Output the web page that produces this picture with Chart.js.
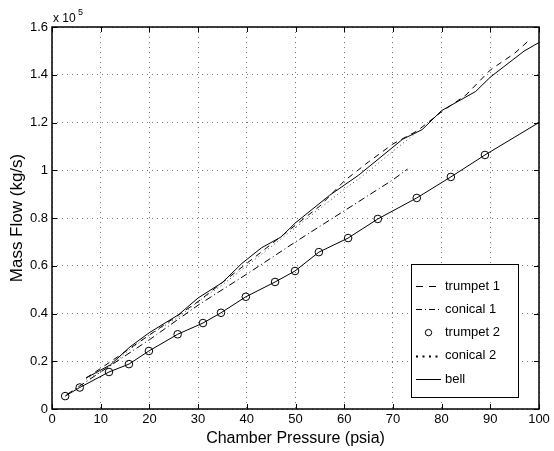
<!DOCTYPE html>
<html>
<head>
<meta charset="utf-8">
<script src="https://cdn.jsdelivr.net/npm/chart.js@4/dist/chart.umd.min.js"></script>
<style>
  html, body { margin: 0; padding: 0; background: #fff; }
  canvas { display: block; }
</style>
</head>
<body>
<canvas id="flow" width="554" height="451"></canvas>
<script>
// values in units of 1e5 kg/s
const trumpet1X = [7, 10, 15, 20, 25, 30, 35, 40, 45, 50, 55, 60, 65, 70, 75, 80, 85, 90, 95, 98];
const trumpet1Y = [0.13, 0.17, 0.24, 0.31, 0.38, 0.45, 0.53, 0.61, 0.69, 0.77, 0.85, 0.955, 1.035, 1.11, 1.165, 1.245, 1.315, 1.42, 1.49, 1.545];

const conical1X = [3, 10, 20, 30, 40, 50, 60, 70, 73];
const conical1Y = [0.06, 0.155, 0.29, 0.435, 0.565, 0.7, 0.83, 0.96, 1.005];

const trumpet2X = [2.7, 5.7, 11.7, 15.8, 19.9, 25.8, 31, 34.7, 39.8, 45.8, 49.9, 54.8, 60.8, 66.9, 74.9, 81.9, 88.9];
const trumpet2Y = [0.054, 0.09, 0.155, 0.188, 0.243, 0.313, 0.36, 0.403, 0.47, 0.532, 0.578, 0.657, 0.716, 0.796, 0.884, 0.972, 1.064];

const conical2X = [7, 12, 16, 20, 26, 30, 35, 40, 45, 50, 55, 60, 65, 70, 75];
const conical2Y = [0.125, 0.18, 0.25, 0.31, 0.385, 0.45, 0.52, 0.6, 0.68, 0.76, 0.84, 0.92, 0.995, 1.08, 1.16];

const bellX = [7, 12, 16, 20, 26, 30, 35, 39, 43, 47, 50, 57, 63, 69, 72, 76, 80, 87, 90, 97, 100];
const bellY = [0.13, 0.185, 0.26, 0.32, 0.395, 0.465, 0.53, 0.61, 0.675, 0.72, 0.78, 0.895, 0.98, 1.08, 1.13, 1.17, 1.25, 1.33, 1.39, 1.5, 1.535];

// solid line drawn through the trumpet 2 markers (not in legend)
const bell2X = [2.7, 5.7, 11.7, 15.8, 19.9, 25.8, 31, 34.7, 39.8, 45.8, 49.9, 54.8, 60.8, 66.9, 74.9, 81.9, 88.9, 100];
const bell2Y = [0.054, 0.09, 0.155, 0.188, 0.243, 0.313, 0.36, 0.403, 0.47, 0.532, 0.578, 0.657, 0.716, 0.796, 0.884, 0.972, 1.064, 1.2];

const xTicks = [0, 10, 20, 30, 40, 50, 60, 70, 80, 90, 100];
const yTicks = [0, 0.2, 0.4, 0.6, 0.8, 1, 1.2, 1.4, 1.6];

const FONT = '"Liberation Sans", Arial, Helvetica, sans-serif';

function pts(xs, ys) {
  return xs.map((x, i) => ({ x: x, y: ys[i] }));
}

function line(label, xs, ys, dash, extra) {
  return Object.assign({
    label: label,
    data: pts(xs, ys),
    borderColor: '#000',
    backgroundColor: '#000',
    borderWidth: 1,
    borderDash: dash,
    pointRadius: 0,
    tension: 0,
    fill: false,
  }, extra || {});
}

const datasets = [
  line('trumpet 1', trumpet1X, trumpet1Y, [6, 5], { legendDash: [7, 6] }),
  line('conical 1', conical1X, conical1Y, [7, 3, 1, 3], { legendDash: [6, 3, 1, 3] }),
  line('trumpet 2', trumpet2X, trumpet2Y, [], {
    showLine: false, pointRadius: 3.8, pointBorderWidth: 1,
    pointBorderColor: '#000', pointBackgroundColor: 'rgba(0,0,0,0)'
  }),
  line('conical 2', conical2X, conical2Y, [1, 3], { borderColor: '#444', legendDash: [2, 4.5], legendWidth: 2 }),
  line('bell', bellX, bellY, []),
  line('', bell2X, bell2Y, [], { noLegend: true }),
];

// frame, inward ticks, exponent label and legend box
const matlabLook = {
  id: 'matlabLook',
  afterDraw(chart) {
    const { ctx, chartArea: a, scales } = chart;
    ctx.save();
    ctx.strokeStyle = '#000';
    ctx.lineWidth = 1;
    ctx.setLineDash([]);
    const tl = 5;
    ctx.beginPath();
    xTicks.forEach((v) => {
      const px = Math.round(scales.x.getPixelForValue(v)) + 0.5;
      ctx.moveTo(px, a.bottom); ctx.lineTo(px, a.bottom - tl);
      ctx.moveTo(px, a.top); ctx.lineTo(px, a.top + tl);
    });
    yTicks.forEach((v) => {
      const py = Math.round(scales.y.getPixelForValue(v)) + 0.5;
      ctx.moveTo(a.left, py); ctx.lineTo(a.left + tl, py);
      ctx.moveTo(a.right, py); ctx.lineTo(a.right - tl, py);
    });
    ctx.stroke();

    ctx.lineWidth = 1.5;
    ctx.strokeRect(a.left, a.top, a.right - a.left, a.bottom - a.top);

    // exponent
    ctx.fillStyle = '#000';
    ctx.textBaseline = 'alphabetic';
    ctx.textAlign = 'left';
    ctx.font = '12px ' + FONT;
    ctx.fillText('x 10', 53, 22);
    ctx.font = '9px ' + FONT;
    ctx.fillText('5', 78, 15);

    // legend
    const bx = 411, by = 264, bw = 107, bh = 133;
    ctx.fillStyle = '#fff';
    ctx.fillRect(bx, by, bw, bh);
    ctx.lineWidth = 1;
    ctx.strokeRect(bx + 0.5, by + 0.5, bw, bh);
    const items = chart.data.datasets.filter((d) => !d.noLegend);
    items.forEach((d, i) => {
      const y = 286 + i * 23.3;
      ctx.strokeStyle = '#000';
      if (d.showLine === false) {
        ctx.setLineDash([]);
        ctx.beginPath();
        ctx.arc(428.5, y, 3.2, 0, Math.PI * 2);
        ctx.stroke();
      } else {
        ctx.setLineDash(d.legendDash || d.borderDash || []);
        ctx.lineWidth = d.legendWidth || 1;
        ctx.beginPath();
        ctx.moveTo(416, Math.round(y) + 0.5);
        ctx.lineTo(441, Math.round(y) + 0.5);
        ctx.stroke();
        ctx.lineWidth = 1;
      }
      ctx.setLineDash([]);
      ctx.fillStyle = '#000';
      ctx.font = '13px ' + FONT;
      ctx.textBaseline = 'middle';
      ctx.fillText(d.label, 445, y);
    });
    ctx.restore();
  }
};

new Chart(document.getElementById('flow'), {
  type: 'line',
  data: { datasets: datasets },
  plugins: [matlabLook],
  options: {
    responsive: false,
    animation: false,
    events: [],
    layout: { padding: { top: 27, right: 15, left: 0, bottom: 0 } },
    plugins: { legend: { display: false }, tooltip: { enabled: false } },
    scales: {
      x: {
        type: 'linear',
        min: 0, max: 100,
        afterBuildTicks: (s) => { s.ticks = xTicks.map((v) => ({ value: v })); },
        afterFit: (s) => { s.height = 42; },
        border: { display: false, dash: [1, 4] },
        grid: { color: '#777', lineWidth: 1, drawTicks: false },
        ticks: { color: '#000', padding: 3, maxRotation: 0, font: { family: FONT, size: 13 } },
        title: {
          display: true, text: 'Chamber Pressure (psia)', color: '#000',
          font: { family: FONT, size: 16, lineHeight: 1.2 }, padding: { top: 3, bottom: 3 }
        }
      },
      y: {
        type: 'linear',
        min: 0, max: 1.6,
        afterBuildTicks: (s) => { s.ticks = yTicks.map((v) => ({ value: v })); },
        afterFit: (s) => { s.width = 52; },
        border: { display: false, dash: [1, 4] },
        grid: { color: '#777', lineWidth: 1, drawTicks: false },
        ticks: {
          color: '#000', padding: 4, font: { family: FONT, size: 13 },
          callback: (v) => String(Math.round(v * 10) / 10)
        },
        title: {
          display: true, text: 'Mass Flow (kg/s)', color: '#000',
          font: { family: FONT, size: 17, lineHeight: 1.2 }, padding: { top: 7, bottom: 7 }
        }
      }
    }
  }
});
</script>
</body>
</html>
